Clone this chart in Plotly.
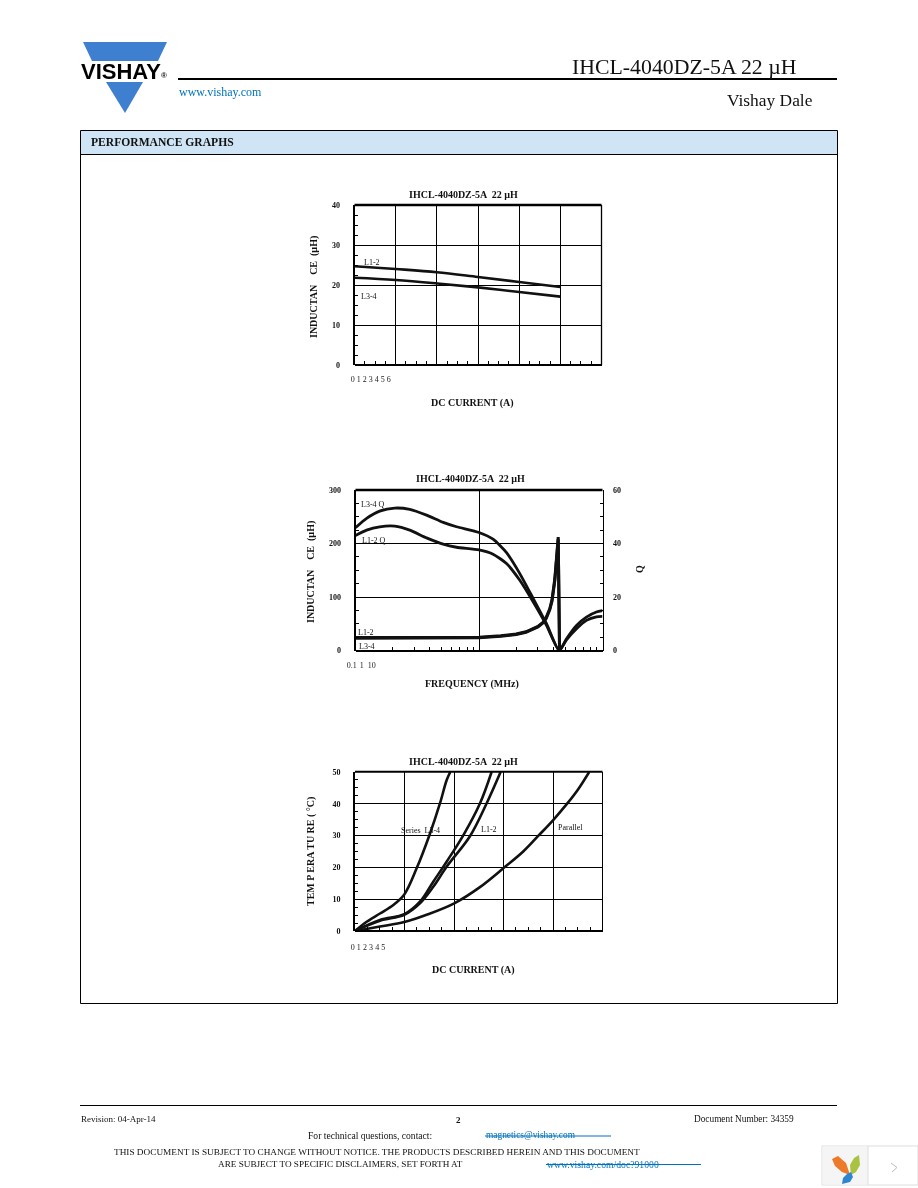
import plotly.graph_objects as go

W, H = 918, 1188
SERIF = "Liberation Serif"

# ---------- data ----------
TITLE = "IHCL-4040DZ-5A  22 µH"

current_1 = [0, 1, 2, 3, 4, 5]
l12_inductance = [24.7, 24.0, 23.2, 22.0, 20.75, 19.5]
l34_inductance = [21.8, 21.25, 20.4, 19.4, 18.25, 17.1]
ticks_1 = ["0", "1", "2", "3", "4", "5", "6"]

freq_q = [0.1, 0.123, 0.157, 0.208, 0.275, 0.376, 0.513, 0.658, 1.0, 1.30, 1.67,
          2.14, 2.75, 3.52, 4.46, 5.11, 6.16, 7.41, 8.93, 10]
q_l34 = [45.9, 49.4, 52.1, 53.25, 52.75, 50.6, 47.9, 46.25, 44.1, 41.6, 36.6,
         28.75, 19.4, 10, 0, 4.4, 9.4, 12.5, 14.4, 14.9]
q_l12 = [43, 45, 46.25, 46.5, 45, 42.1, 39.75, 38.6, 37.6, 36, 32.5,
         26.25, 18.1, 9.4, 0, 4, 8.1, 11.25, 12.6, 12.75]
freq_l = [0.1, 0.2, 0.5, 1.0, 1.5, 2.0, 2.4, 2.75, 3.0, 3.31, 3.5, 3.74, 3.9, 4.11, 4.25, 4.38, 4.49]
l12_freq = [24.5, 24.5, 24.5, 25.0, 27.5, 31.0, 35, 40.6, 45, 53, 62, 78, 95, 134, 170, 212, 0]
l34_freq = [23.0, 23.0, 23.5, 24.0, 26.5, 30.0, 34, 39.5, 44, 52, 60, 76, 92, 130, 165, 208, 0]
ticks_2 = ["0.1", "1", "10"]

cur_a = [0, 0.236, 0.505, 0.774, 0.996, 1.245, 1.514, 1.716, 1.851, 1.925]
temp_a = [0, 2.9, 5.5, 8.2, 11.5, 19.7, 30.6, 40.1, 47.4, 50]
cur_b = [0, 0.505, 0.996, 1.312, 1.581, 1.851, 2.187, 2.524, 2.759]
temp_b = [0, 3.5, 5.3, 9.2, 15.5, 21.8, 30.1, 40.1, 50]
cur_c = [0, 0.505, 0.996, 1.312, 1.581, 1.851, 2.322, 2.658, 2.941]
temp_c = [0, 3.2, 5.1, 8.7, 13.9, 20.2, 29.8, 40.1, 50]
cur_d = [0, 0.505, 0.996, 1.447, 2.005, 2.524, 2.995, 3.398, 3.701, 4.004, 4.273, 4.509, 4.731]
temp_d = [0, 1.4, 2.8, 5.1, 8.7, 13.8, 19.7, 25.0, 29.9, 34.9, 39.8, 44.6, 50]
ticks_3 = ["0", "1", "2", "3", "4", "5"]


def px(x):
    return x / W


def py(y):
    return 1 - y / H


fig = go.Figure()
line = dict(color="#111111", width=2.6, shape="spline", smoothing=1.0)
cusp = dict(color="#111111", width=2.8, shape="spline", smoothing=0.6)
thick = dict(color="#111111", width=3.0)

fig.add_trace(go.Scatter(x=current_1, y=l12_inductance, xaxis="x", yaxis="y", mode="lines", line=line, name="L1-2"))
fig.add_trace(go.Scatter(x=current_1, y=l34_inductance, xaxis="x", yaxis="y", mode="lines", line=line, name="L3-4"))

fig.add_trace(go.Scatter(x=freq_q, y=q_l34, xaxis="x2", yaxis="y5", mode="lines", line=cusp, name="L3-4 Q"))
fig.add_trace(go.Scatter(x=freq_q, y=q_l12, xaxis="x2", yaxis="y5", mode="lines", line=cusp, name="L1-2 Q"))
fig.add_trace(go.Scatter(x=freq_l, y=l12_freq, xaxis="x2", yaxis="y2", mode="lines", line=thick, name="L1-2"))
fig.add_trace(go.Scatter(x=freq_l, y=l34_freq, xaxis="x2", yaxis="y2", mode="lines", line=thick, name="L3-4"))

for xs, ys, n in [(cur_a, temp_a, "Series L3-4"), (cur_b, temp_b, "L1-2 a"), (cur_c, temp_c, "L1-2"), (cur_d, temp_d, "Parallel")]:
    fig.add_trace(go.Scatter(x=xs, y=ys, xaxis="x3", yaxis="y3", mode="lines", line=line, name=n))

# carriers that make the compressed tick-label axes draw
hidden = dict(mode="markers", marker=dict(opacity=0), hoverinfo="skip", showlegend=False)
fig.add_trace(go.Scatter(x=[0], y=[0], xaxis="x4", yaxis="y6", **hidden))
fig.add_trace(go.Scatter(x=[0], y=[0], xaxis="x5", yaxis="y7", **hidden))
fig.add_trace(go.Scatter(x=[0], y=[0], xaxis="x6", yaxis="y8", **hidden))

tickfont = dict(family=SERIF, size=8, color="#111111", weight="bold")
plainfont = dict(family=SERIF, size=8, color="#222222")
common = dict(showline=True, linecolor="#000000", mirror=False, zeroline=False,
              gridcolor="#000000", gridwidth=1, showgrid=True, tickfont=tickfont)


def xaxis(x0, x1, y, rng, **kw):
    return dict(domain=[px(x0), px(x1)], anchor="free", position=py(y), range=rng, linewidth=2,
                showticklabels=False, ticks="", **common, **kw)


def yaxis(y_top, y_bot, rng, anchor, dtick, minor, **kw):
    return dict(domain=[py(y_bot), py(y_top)], anchor=anchor, range=rng, dtick=dtick, linewidth=2,
                ticks="", ticklabelstandoff=11,
                minor=dict(dtick=minor, ticks="inside", ticklen=3, tickcolor="#000", showgrid=False), **common, **kw)


def label_axis(x0, x1, y, rng, vals, text, yname):
    return dict(domain=[px(x0), px(x1)], anchor=yname, range=rng, tickvals=vals, ticktext=text, tickangle=0,
                showgrid=False, showline=False, zeroline=False, ticks="", tickfont=plainfont, fixedrange=True)


def strip_axis(y, xname):
    return dict(domain=[py(y), py(y - 2)], anchor=xname, visible=False, range=[-1, 1], fixedrange=True)


minor_x = [0.1 * m for m in range(2, 10)] + [float(m) for m in range(2, 10)]

layout = dict(
    template="none",
    width=W, height=H, margin=dict(l=0, r=0, t=0, b=0, autoexpand=False), paper_bgcolor="white", plot_bgcolor="white",
    showlegend=False, font=dict(family=SERIF, color="#111111"),
    xaxis=xaxis(354.5, 601.5, 365, [0, 6], dtick=1,
                minor=dict(dtick=0.25, ticks="inside", ticklen=3, tickcolor="#000", showgrid=False)),
    yaxis=yaxis(205, 365, [0, 40], "x", 10, 2.5),
    xaxis2=xaxis(355.5, 602.5, 650.5, [-1, 1], type="log", dtick=1,
                 minor=dict(tickvals=minor_x, ticks="inside", ticklen=3, tickcolor="#000", showgrid=False)),
    yaxis2=yaxis(490, 650.5, [0, 300], "x2", 100, 25),
    yaxis5=dict(domain=[py(650.5), py(490)], anchor="x2", overlaying="y2", side="right", range=[0, 60], dtick=20,
                showline=True, linecolor="#000", linewidth=1, zeroline=False, showgrid=False, ticks="",
                ticklabelstandoff=8, tickfont=tickfont, minor=dict(dtick=5, ticks="inside", ticklen=3, tickcolor="#000")),
    xaxis3=xaxis(355, 602.5, 931, [0, 5], dtick=1,
                 minor=dict(dtick=0.25, ticks="inside", ticklen=3, tickcolor="#000", showgrid=False)),
    yaxis3=yaxis(772, 931, [0, 50], "x3", 10, 2.5),
    xaxis4=label_axis(352.7, 388.7, 373, [0, 6], list(range(7)), ticks_1, "y6"),
    xaxis5=label_axis(351.7, 371.7, 659, [0, 2], [0, 1, 2], ticks_2, "y7"),
    xaxis6=label_axis(352.7, 383.3, 941, [0, 5], list(range(6)), ticks_3, "y8"),
    yaxis6=strip_axis(373, "x4"),
    yaxis7=strip_axis(659, "x5"),
    yaxis8=strip_axis(941, "x6"),
)
fig.update_layout(**layout)

shapes = []


def rect(x0, y0, x1, y1, fill=None, lc=None, lw=1, layer="above"):
    shapes.append(dict(type="rect", xref="paper", yref="paper", x0=px(x0), x1=px(x1), y0=py(y0), y1=py(y1),
                       fillcolor=fill or "rgba(0,0,0,0)", line=dict(color=lc or "rgba(0,0,0,0)", width=lw if lc else 0), layer=layer))


def hline(x0, x1, y, color="#000", w=1):
    shapes.append(dict(type="line", xref="paper", yref="paper", x0=px(x0), x1=px(x1), y0=py(y), y1=py(y),
                       line=dict(color=color, width=w)))


def vline(x, y0, y1, color="#000", w=1):
    shapes.append(dict(type="line", xref="paper", yref="paper", x0=px(x), x1=px(x), y0=py(y0), y1=py(y1),
                       line=dict(color=color, width=w)))


def poly(points, fill, lc=None, lw=0, close=True):
    d = "M " + " L ".join(f"{px(a):.5f} {py(b):.5f}" for a, b in points) + (" Z" if close else "")
    shapes.append(dict(type="path", xref="paper", yref="paper", path=d, fillcolor=fill,
                       line=dict(color=lc or "rgba(0,0,0,0)", width=lw)))


# page frame
rect(80.5, 130.5, 837.5, 1003.5, lc="#000", lw=1, layer="below")
rect(81, 131, 837, 154.5, fill="#CFE5F5", layer="below")
hline(80.5, 837.5, 154.5)
hline(178, 837, 79, w=2)
hline(80, 837, 1105.5)
hline(485, 611, 1136, color="#0072BC")
hline(546, 701, 1164.5, color="#0072BC")

# chart borders
hline(354.5, 601.5, 205, w=2.5)
vline(601.5, 205, 365, w=1.3)
hline(355.5, 602.5, 490, w=2.5)
hline(355, 602.5, 771.7, w=2)
vline(602.5, 772, 931)

# logo
poly([(83, 42), (167, 42), (158, 61), (92, 61)], "#3F7FCF")
poly([(106, 82), (143, 82), (125, 113)], "#3F7FCF")

# corner widget
rect(822, 1146, 918, 1185, fill="#FFFFFF", lc="#DDDDDD")
rect(822.5, 1146.5, 868, 1184.5, fill="#F5F5F5")
vline(868, 1146, 1185, color="#DDDDDD")
poly([(832, 1159), (838, 1156), (846, 1163), (850, 1175), (842, 1172), (835, 1166)], "#EC7A2A")
poly([(859, 1155), (860, 1165), (856, 1172), (851, 1175), (850, 1165), (854, 1158)], "#A9C23F")
poly([(851, 1172), (853, 1177), (850, 1182), (842, 1184), (843, 1178), (847, 1174)], "#2E86D0")
poly([(891, 1163), (897, 1167.5), (892, 1172)], "rgba(0,0,0,0)", lc="#BBBBBB", lw=1, close=False)

# white gaps behind chart 3 labels
for a, b, c, d in [(398, 824, 443, 836), (449, 821, 459, 833), (478, 820, 508, 833)]:
    shapes.append(dict(type="rect", xref="paper", yref="paper", x0=px(a), x1=px(b), y0=py(c), y1=py(d),
                       fillcolor="white", line=dict(width=0), layer="between"))
fig.update_layout(shapes=shapes)


def text(x, y, s, size=10, bold=False, color="#111111", anchor="center", rot=0, family=SERIF):
    fig.add_annotation(xref="paper", yref="paper", x=px(x), y=py(y), text=f"<b>{s}</b>" if bold else s,
                       showarrow=False, xanchor=anchor, yanchor="middle", textangle=rot,
                       font=dict(family=family, size=size, color=color), borderpad=0, align="left")


text(684.5, 67.5, "IHCL-4040DZ-5A 22 µH", 21.8, anchor="center")
text(814, 100, "Vishay Dale", 17.4, anchor="right")
text(177.5, 92, "www.vishay.com", 12, color="#0072BC", anchor="left")
text(80, 71, "VISHAY", 22, bold=True, color="#000000", anchor="left", family="Liberation Sans")
text(164, 75, "®", 8, bold=True, family="Liberation Sans")
text(90, 142.5, "PERFORMANCE GRAPHS", 11.6, bold=True, anchor="left")

# chart 1
text(463.5, 194.5, TITLE, 10, bold=True)
text(314, 287, "INDUCTAN    CE  (µH)", 10, bold=True, rot=-90)
text(472, 402.5, "DC CURRENT (A)", 10, bold=True)
text(372, 262, "L1-2", 8)
text(369, 296, "L3-4", 8)
# chart 2
text(470, 478.5, TITLE, 10, bold=True)
text(311, 572, "INDUCTAN    CE  (µH)", 10, bold=True, rot=-90)
text(472.5, 684.5, "FREQUENCY (MHz)", 10, bold=True)
text(639, 569, "Q", 10, bold=True, rot=-90)
text(373, 504, "L3-4 Q", 8)
text(374, 540, "L1-2 Q", 8)
text(366, 632, "L1-2", 8)
text(367, 646, "L3-4", 8)
# chart 3
text(463.5, 761, TITLE, 10, bold=True)
text(311, 852, "TEM P ERA TU RE ( °C)", 10, bold=True, rot=-90)
text(473, 969.5, "DC CURRENT (A)", 10, bold=True)
text(420, 830, "Series  L3-4", 8)
text(489, 829, "L1-2", 8)
text(570, 827, "Parallel", 8)

# footer
text(79.5, 1118.5, "Revision: 04-Apr-14", 9, anchor="left")
text(458, 1119.5, "2", 9, bold=True)
text(795, 1118.5, "Document Number: 34359", 9.3, anchor="right")
text(306.5, 1135, "For technical questions, contact:", 9.6, anchor="left")
text(484.5, 1135, "magnetics@vishay.com", 9.4, color="#0072BC", anchor="left")
text(112.5, 1152, "THIS DOCUMENT IS SUBJECT TO CHANGE WITHOUT NOTICE. THE PRODUCTS DESCRIBED HEREIN AND THIS DOCUMENT", 9.25, anchor="left")
text(216.5, 1164, "ARE SUBJECT TO SPECIFIC DISCLAIMERS, SET FORTH AT", 9.2, anchor="left")
text(545.5, 1164, "www.vishay.com/doc?91000", 9.7, color="#0072BC", anchor="left")

fig.write_html("out.html", config=dict(displayModeBar=False),
               post_script="document.body.style.margin='0';document.documentElement.style.overflow='hidden';"
                           "document.querySelectorAll('.main-svg').forEach(function(s){s.style.willChange='transform';});")
